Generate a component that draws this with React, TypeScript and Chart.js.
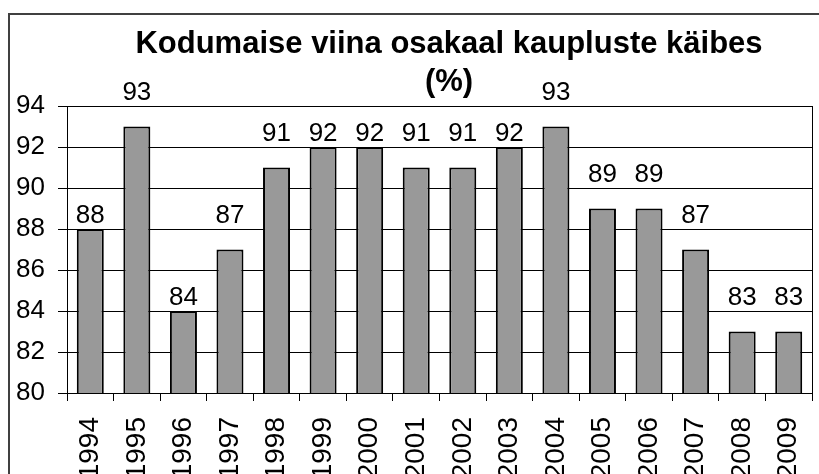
import React, { useEffect, useRef } from "react";
import { Chart, registerables } from "chart.js";

Chart.register(...registerables);

const TITLE_LINES = ["Kodumaise viina osakaal kaupluste käibes", "(%)"];
const YEARS = ["1994", "1995", "1996", "1997", "1998", "1999", "2000", "2001", "2002", "2003", "2004", "2005", "2006", "2007", "2008", "2009"];
const SHARE = [88, 93, 84, 87, 91, 92, 92, 91, 91, 92, 93, 89, 89, 87, 83, 83];
const Y_MIN = 80;
const Y_MAX = 94;
const Y_STEP = 2;

const FONT = "'Liberation Sans', Arial, Helvetica, sans-serif";

export default function App() {
  const ref = useRef<HTMLCanvasElement>(null);

  useEffect(() => {
    const canvas = ref.current;
    if (!canvas) return;

    const frameTitle = {
      id: "frameTitle",
      afterDraw(chart: any) {
        const ctx = chart.ctx;
        const area = chart.chartArea;
        ctx.save();
        // right border of plot area
        ctx.strokeStyle = "#000";
        ctx.lineWidth = 1;
        ctx.beginPath();
        ctx.moveTo(Math.round(area.right) + 0.5, area.top);
        ctx.lineTo(Math.round(area.right) + 0.5, area.bottom);
        ctx.stroke();
        // outer chart frame (extends past the visible picture)
        const fl = 9, ft = 14, fr = 889, fb = 540;
        ctx.strokeStyle = "#404040";
        ctx.lineWidth = 2;
        ctx.strokeRect(fl, ft, fr - fl, fb - ft);
        // title
        ctx.fillStyle = "#000";
        ctx.font = `bold 31px ${FONT}`;
        ctx.textAlign = "center";
        ctx.textBaseline = "alphabetic";
        const cx = (fl + fr) / 2;
        ctx.fillText(TITLE_LINES[0], cx, 53);
        ctx.fillText(TITLE_LINES[1], cx, 91);
        ctx.restore();
      },
    };

    const valueLabels = {
      id: "valueLabels",
      afterDatasetsDraw(chart: any) {
        const ctx = chart.ctx;
        const meta = chart.getDatasetMeta(0);
        const y = chart.scales.y;
        ctx.save();
        ctx.fillStyle = "#000";
        ctx.font = `26px ${FONT}`;
        ctx.textAlign = "center";
        ctx.textBaseline = "alphabetic";
        meta.data.forEach((bar: any, i: number) => {
          const v = SHARE[i];
          const anchor = Math.ceil(v / Y_STEP) * Y_STEP;
          ctx.fillText(String(v), bar.x, y.getPixelForValue(anchor) - 6);
        });
        ctx.restore();
      },
    };

    const chart = new Chart(canvas, {
      type: "bar",
      data: {
        labels: YEARS,
        datasets: [
          {
            data: SHARE,
            backgroundColor: "#999999",
            borderColor: "#000000",
            borderWidth: 2,
            borderSkipped: false,
            barPercentage: 0.58,
            categoryPercentage: 1,
          },
        ],
      },
      options: {
        responsive: false,
        animation: false,
        devicePixelRatio: 1,
        layout: { padding: { top: 106, left: 0, right: 7, bottom: 0 } },
        plugins: {
          legend: { display: false },
          title: { display: false },
          tooltip: { enabled: false },
        },
        scales: {
          x: {
            grid: {
              display: true,
              drawOnChartArea: false,
              drawTicks: true,
              tickLength: 8,
              color: "#000",
              offset: true,
            },
            border: { display: true, color: "#000", width: 1 },
            ticks: {
              autoSkip: false,
              minRotation: 90,
              maxRotation: 90,
              padding: 16,
              color: "#000",
              font: { family: FONT, size: 28 },
            },
            afterFit(s: any) {
              s.height = 81;
              s.paddingLeft = 0;
              s.paddingRight = 0;
            },
          },
          y: {
            min: Y_MIN,
            max: Y_MAX,
            ticks: {
              stepSize: Y_STEP,
              padding: 13,
              color: "#000",
              font: { family: FONT, size: 26 },
            },
            grid: { color: "#000", tickLength: 9, drawTicks: true },
            border: { display: true, color: "#000", width: 1 },
            afterFit(s: any) {
              s.width = 67;
              s.paddingTop = 0;
              s.paddingBottom = 0;
            },
          },
        },
      },
      plugins: [frameTitle, valueLabels],
    } as any);

    return () => chart.destroy();
  }, []);

  return (
    <div style={{ position: "absolute", left: 0, top: 0, width: 819, height: 474, background: "#fff", overflow: "hidden" }}>
      <canvas ref={ref} width={819} height={474} style={{ display: "block" }} />
    </div>
  );
}
